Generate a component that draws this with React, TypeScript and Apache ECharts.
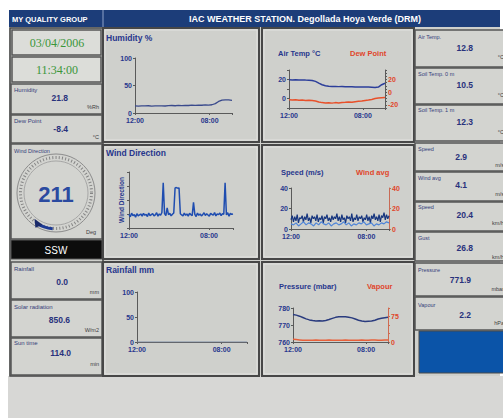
import React, { useEffect, useRef } from "react";
import * as echarts from "echarts";

// ---------- DATA ----------
const timeTicks = ["12:00", "08:00"];
const HOURS_SPAN = 26;

const humidity = [13, 12.5, 13, 12.8, 13.2, 12.6, 13, 12.8, 13.1, 12.7, 13.3, 13.6, 13.2, 13.8, 13.5, 14, 13.6, 14.2, 13.9, 14.4, 14.1, 14.6, 14.3, 15, 17, 21, 23.5, 24, 23.8, 23];

const airTemp = [19.8, 19.6, 19.7, 19.5, 19.6, 19.4, 19.3, 19.0, 18.0, 16.2, 14.5, 13.4, 12.9, 12.7, 12.6, 12.5, 12.6, 12.4, 12.3, 12.4, 12.2, 12.1, 12.0, 12.2, 12.0, 11.8, 11.6, 12.0, 14.5, 16.0];
const dewPoint = [-12, -12.5, -12, -12.8, -12.5, -13, -12.6, -13.2, -14, -15.5, -16.5, -17, -16.8, -17.3, -16.5, -17, -16.4, -16, -15.5, -16, -15, -14.5, -14, -13.2, -12.5, -11.5, -10, -9.2, -8.8, -8.4];

const windDirection = [
  88, 72, 95, 80, 86, 70, 92, 78, 84, 90,
  76, 94, 82, 88, 74, 96, 80, 86, 92, 78,
  84, 98, 76, 90, 82, 100, 290, 92, 80, 130,
  86, 94, 78, 88, 96, 257, 260, 256, 258, 92,
  84, 78, 96, 82, 90, 76, 94, 86, 80, 165,
  88, 74, 96, 82, 90, 78, 86, 98, 80, 92,
  84, 76, 94, 88, 82, 100, 78, 90, 86, 96,
  80, 92, 88, 290, 84, 98, 76, 94, 88, 90,
];

const windSpeed = [9, 13, 7, 12, 8, 14, 6, 11, 10, 13, 7, 12, 9, 15, 8, 11, 6, 13, 10, 12, 8, 14, 7, 11, 9, 13, 6, 12, 10, 14, 8, 11, 7, 13, 9, 12, 10, 15, 8, 12, 7, 14, 9, 11, 6, 13, 10, 12, 8, 15, 7, 11, 9, 14, 8, 12, 10, 13, 7, 11, 9, 14, 8, 12, 6, 13, 10, 15, 9, 12, 8, 14, 7, 13, 11, 16, 9, 14, 10, 13];
const windAvg = [5, 4, 6, 3, 5, 7, 4, 6, 5, 3, 6, 4, 7, 5, 4, 6, 3, 5, 6, 4, 5, 7, 4, 6, 3, 5, 4, 6, 5, 7, 4, 5, 6, 3, 5, 4, 6, 5, 7, 6];

const rainfall = [0, 0, 0, 0, 0, 0, 0, 0, 0, 0, 0, 0, 0, 0, 0, 0, 0, 0, 0, 0, 0, 0, 0, 0, 0, 0, 0, 0, 0, 0];

const pressure = [776.2, 775.8, 775.2, 774.4, 773.6, 773.0, 772.6, 772.4, 772.5, 772.3, 772.6, 773.2, 773.9, 774.5, 774.8, 774.9, 774.8, 774.6, 774.2, 773.5, 772.8, 772.3, 772.1, 772.2, 772.3, 772.8, 773.5, 774.0, 774.3, 774.6];
const vapour = [8, 7, 6, 5, 5, 5, 5, 6, 5, 5, 5, 6, 5, 5, 5, 5, 6, 5, 5, 5, 5, 6, 5, 5, 6, 6, 5, 5, 6, 6];

const leftReadings = [
  { label: "Humidity", value: "21.8", unit: "%Rh" },
  { label: "Dew Point", value: "-8.4", unit: "°C" },
  { label: "Rainfall", value: "0.0", unit: "mm" },
  { label: "Solar radiation", value: "850.6", unit: "W/m2" },
  { label: "Sun time", value: "114.0", unit: "min" },
];
const rightReadings = [
  { label: "Air Temp.", value: "12.8", unit: "°C" },
  { label: "Soil Temp. 0 m", value: "10.5", unit: "°C" },
  { label: "Soil Temp. 1 m", value: "12.3", unit: "°C" },
  { label: "Speed", value: "2.9", unit: "m/s" },
  { label: "Wind avg", value: "4.1", unit: "m/s" },
  { label: "Speed", value: "20.4", unit: "km/h" },
  { label: "Gust", value: "26.8", unit: "km/h" },
  { label: "Pressure", value: "771.9", unit: "mbar" },
  { label: "Vapour", value: "2.2", unit: "hPa" },
];
const dateText = "03/04/2006";
const timeText = "11:34:00";
const windDegrees = 211;
const windCompass = "SSW";

// ---------- HELPERS ----------
const withX = (vals: number[]) => vals.map((v, i) => [(i * HOURS_SPAN) / (vals.length - 1), v]);

const FONT = '"Liberation Sans", Arial, sans-serif';
const BLUE_TXT = "#27368c";
const RED_TXT = "#e0452a";
const AX = "#5a5a5a";

const xAxisFor = (gridIndex: number) => ({
  type: "value",
  gridIndex,
  min: 0,
  max: HOURS_SPAN,
  interval: 20,
  z: 5,
  axisLine: { show: true, onZero: false, lineStyle: { color: AX, width: 1 } },
  axisTick: { show: true, length: 2, lineStyle: { color: AX } },
  splitLine: { show: false },
  axisLabel: {
    fontSize: 7,
    fontWeight: "bold",
    fontFamily: FONT,
    color: BLUE_TXT,
    margin: 4,
    formatter: (v: number) => (v === 0 ? timeTicks[0] : v === 20 ? timeTicks[1] : ""),
  },
});

const yAxisFor = (gridIndex: number, min: number, max: number, interval: number, opts: any = {}) => ({
  type: "value",
  gridIndex,
  min,
  max,
  interval,
  z: 5,
  position: opts.position || "left",
  axisLine: { show: true, onZero: false, lineStyle: { color: opts.lineColor || AX, width: 1 } },
  axisTick: { show: true, length: 2, lineStyle: { color: opts.lineColor || AX } },
  splitLine: { show: false },
  axisLabel: {
    show: opts.showLabels !== false,
    fontSize: 7,
    fontWeight: "bold",
    fontFamily: FONT,
    color: opts.labelColor || BLUE_TXT,
    margin: 3,
    formatter: opts.formatter || ((v: number) => String(v)),
  },
  ...(opts.extra || {}),
});

const lineSeries = (xi: number, yi: number, data: number[], color: string, width = 1.3) => ({
  type: "line",
  xAxisIndex: xi,
  yAxisIndex: yi,
  data: withX(data),
  showSymbol: false,
  z: 6,
  lineStyle: { color, width },
  silent: true,
});

const rect = (x: number, y: number, w: number, h: number, fill: string, stroke = "#4a4a4a", lw = 1.5) => ({
  type: "rect",
  z: 0,
  shape: { x, y, width: w, height: h },
  style: { fill, stroke, lineWidth: lw },
});

const text = (x: number, y: number, t: string, font: string, fill: string, align = "left") => ({
  type: "text",
  z: 20,
  x,
  y,
  style: { text: t, font, fill, textAlign: align, textVerticalAlign: "middle" },
});

export default function App() {
  const ref = useRef<HTMLDivElement>(null);

  useEffect(() => {
    if (!ref.current) return;
    const chart = echarts.init(ref.current, null, { renderer: "svg", width: 503, height: 418 });

    const panelBg = "#cfd0cc";
    const boxBg = "#d3d4d0";
    const graphics: any[] = [];

    // page background areas
    graphics.push(rect(9, 27, 491, 350, panelBg, "none", 0));
    graphics.push(rect(8, 376, 495, 42, "#d7d7d5", "none", 0));
    // header
    graphics.push(rect(9, 10, 491, 17, "#1c3d79", "none", 0));
    graphics.push({ type: "line", z: 1, shape: { x1: 103, y1: 10, x2: 103, y2: 27 }, style: { stroke: "#8ea3c9", lineWidth: 1 } });
    graphics.push(text(12, 19, "MY QUALITY GROUP", `bold 7.5px ${FONT}`, "#ffffff"));
    graphics.push(text(305, 19, "IAC WEATHER STATION. Degollada Hoya Verde (DRM)", `bold 9px ${FONT}`, "#ffffff", "center"));

    // left column
    graphics.push(rect(10, 28, 93, 348, panelBg, "#444444", 1.5));
    graphics.push(rect(12, 30, 89, 25, "#dcddd9", "#555555", 1.5));
    graphics.push(text(57, 42.5, dateText, `12px "Liberation Serif", serif`, "#3a963a", "center"));
    graphics.push(rect(12, 57, 89, 25, "#dcddd9", "#555555", 1.5));
    graphics.push(text(57, 69.5, timeText, `12px "Liberation Serif", serif`, "#3a963a", "center"));

    const leftBoxes = [
      { y: 84, h: 30, ly: 90, vy: 98, uy: 107, vx: 68 },
      { y: 115, h: 28, ly: 121, vy: 129, uy: 137, vx: 68 },
      { y: 262, h: 37, ly: 269, vy: 282, uy: 292, vx: 68 },
      { y: 300, h: 37, ly: 307, vy: 320, uy: 330, vx: 70 },
      { y: 338, h: 37, ly: 343, vy: 353, uy: 364, vx: 71 },
    ];
    leftBoxes.forEach((b, i) => {
      const r = leftReadings[i];
      graphics.push(rect(11, b.y, 91, b.h, boxBg, "#555555", 1.5));
      graphics.push(text(14, b.ly, r.label, `6px ${FONT}`, "#33407a"));
      graphics.push(text(b.vx, b.vy, r.value, `bold 8.5px ${FONT}`, "#28327c", "right"));
      graphics.push(text(99, b.uy, r.unit, `5.5px ${FONT}`, "#404040", "right"));
    });

    // gauge box
    graphics.push(rect(11, 144, 91, 95, boxBg, "#555555", 1.5));
    graphics.push(text(14, 151, "Wind Direction", `5.5px ${FONT}`, "#33407a"));
    graphics.push({ type: "circle", z: 2, shape: { cx: 56, cy: 193, r: 39 }, style: { fill: "none", stroke: "#8c8c8c", lineWidth: 1 } });
    graphics.push({ type: "circle", z: 2, shape: { cx: 56, cy: 193, r: 35.5 }, style: { fill: "none", stroke: "#858585", lineWidth: 3, lineDash: [1, 2.2] } });
    graphics.push({ type: "circle", z: 2, shape: { cx: 56, cy: 193, r: 32 }, style: { fill: "none", stroke: "#9a9a9a", lineWidth: 0.8 } });
    const scr = ((windDegrees - 90) * Math.PI) / 180;
    graphics.push({ type: "arc", z: 3, shape: { cx: 56, cy: 193, r: 36, startAngle: scr - 0.45, endAngle: scr + 0.04, clockwise: true }, style: { stroke: "#1d3a94", lineWidth: 3, fill: "none" } });
    const nx = 56 + 36 * Math.cos(scr);
    const ny = 193 + 36 * Math.sin(scr);
    graphics.push({ type: "polygon", z: 4, shape: { points: [[nx - 3, ny - 5], [nx + 5, ny + 1], [nx - 2, ny + 4]] }, style: { fill: "#1a2a6a" } });
    graphics.push(text(56, 194, String(windDegrees), `bold 22px ${FONT}`, "#2a4aa0", "center"));
    graphics.push(text(96, 232, "Deg", `5.5px ${FONT}`, "#404040", "right"));
    graphics.push(rect(11, 240, 91, 19, "#0c0c0c", "#555555", 1));
    graphics.push(text(56, 250, windCompass, `10px ${FONT}`, "#ffffff", "center"));

    // middle panels
    const panels = [
      [103, 28], [262, 28],
      [103, 145], [262, 145],
      [103, 262], [262, 262],
    ];
    panels.forEach(([x, y]) => {
      const w = x === 103 ? 156 : 152;
      const h = 114;
      graphics.push(rect(x, y, w, h, panelBg, "#474747", 2));
      graphics.push(rect(x + 2, y + 2, w - 4, h - 4, "none", "#e2e2e0", 1));
    });
    graphics.push(text(106, 38, "Humidity %", `bold 8.5px ${FONT}`, BLUE_TXT));
    graphics.push(text(106, 153, "Wind Direction", `bold 8.5px ${FONT}`, BLUE_TXT));
    graphics.push(text(106, 270, "Rainfall mm", `bold 8.5px ${FONT}`, BLUE_TXT));
    graphics.push(text(278, 53, "Air Temp °C", `bold 7.5px ${FONT}`, BLUE_TXT));
    graphics.push(text(350, 53, "Dew Point", `bold 7.5px ${FONT}`, RED_TXT));
    graphics.push(text(281, 172, "Speed (m/s)", `bold 7.5px ${FONT}`, BLUE_TXT));
    graphics.push(text(356, 172, "Wind avg", `bold 7.5px ${FONT}`, RED_TXT));
    graphics.push(text(279, 286, "Pressure (mbar)", `bold 7.5px ${FONT}`, BLUE_TXT));
    graphics.push(text(367, 286, "Vapour", `bold 7.5px ${FONT}`, RED_TXT));

    // right column
    const rightBoxes = [
      { y: 30, h: 37, ly: 37, vy: 48, uy: 57, vx: 473 },
      { y: 68, h: 36, ly: 74, vy: 85, uy: 95, vx: 473 },
      { y: 105, h: 36, ly: 110, vy: 122, uy: 132, vx: 473 },
      { y: 143, h: 28, ly: 149, vy: 157, uy: 165, vx: 467 },
      { y: 172, h: 29, ly: 178, vy: 185, uy: 194, vx: 467 },
      { y: 202, h: 29, ly: 207, vy: 215, uy: 223, vx: 473 },
      { y: 232, h: 29, ly: 238, vy: 248, uy: 257, vx: 473 },
      { y: 263, h: 33, ly: 270, vy: 280, uy: 289, vx: 471 },
      { y: 297, h: 33, ly: 305, vy: 315, uy: 323, vx: 471 },
    ];
    rightBoxes.forEach((b, i) => {
      const r = rightReadings[i];
      graphics.push(rect(415, b.y, 92, b.h, boxBg, "#555555", 1.5));
      graphics.push(text(418, b.ly, r.label, `5.5px ${FONT}`, "#33407a"));
      graphics.push(text(b.vx, b.vy, r.value, `bold 8.5px ${FONT}`, "#28327c", "right"));
      graphics.push(text(504, b.uy, r.unit, `5.5px ${FONT}`, "#404040", "right"));
    });
    graphics.push(rect(419, 331, 88, 42, "#0b54a8", "#4a4a4a", 1));

    const option: any = {
      animation: false,
      backgroundColor: "#ffffff",
      graphic: { elements: graphics },
      grid: [
        { left: 135, top: 58, width: 97, height: 55 },
        { left: 289, top: 70, width: 96, height: 38 },
        { left: 129, top: 172, width: 104, height: 56 },
        { left: 291, top: 188, width: 98, height: 41 },
        { left: 137, top: 292, width: 110, height: 50 },
        { left: 293, top: 308, width: 95, height: 34 },
      ],
      xAxis: [0, 1, 2, 3, 4, 5].map((i) => xAxisFor(i)),
      yAxis: [
        yAxisFor(0, 0, 100, 50),
        yAxisFor(1, -10, 30, 10, { formatter: (v: number) => (v === 0 || v === 20 ? String(v) : "") }),
        yAxisFor(1, -25, 35, 5, {
          position: "right",
          labelColor: RED_TXT,
          formatter: (v: number) => (v === -20 || v === 0 || v === 20 ? String(v) : ""),
        }),
        yAxisFor(2, 0, 360, 90, {
          showLabels: false,
          extra: {
            name: "Wind Direction",
            nameLocation: "middle",
            nameRotate: 90,
            nameGap: 4,
            nameTextStyle: { fontSize: 6.5, fontWeight: "bold", fontFamily: FONT, color: BLUE_TXT },
          },
        }),
        yAxisFor(3, 0, 40, 20),
        yAxisFor(3, 0, 40, 20, { position: "right", labelColor: RED_TXT, lineColor: "#c86a55" }),
        yAxisFor(4, 0, 100, 50),
        yAxisFor(5, 760, 780, 10),
        yAxisFor(5, 0, 100, 25, {
          position: "right",
          labelColor: RED_TXT,
          lineColor: "#d06a50",
          formatter: (v: number) => (v === 0 || v === 75 ? String(v) : ""),
        }),
      ],
      series: [
        lineSeries(0, 0, humidity, "#3a4a8c", 1.3),
        lineSeries(1, 1, airTemp, "#2c3e9a", 1.5),
        lineSeries(1, 2, dewPoint, "#e8502a", 1.5),
        lineSeries(2, 3, windDirection, "#1f4db0", 1.5),
        lineSeries(3, 4, windSpeed, "#17367f", 1.2),
        lineSeries(3, 5, windAvg, "#4f85d8", 1.2),
        lineSeries(4, 6, rainfall, "#7f8da6", 1.2),
        lineSeries(5, 7, pressure, "#2a3b7e", 1.5),
        lineSeries(5, 8, vapour, "#e8603a", 1.5),
      ],
    };

    chart.setOption(option);
    return () => chart.dispose();
  }, []);

  return <div ref={ref} style={{ position: "absolute", left: 0, top: 0, width: 503, height: 418 }} />;
}
